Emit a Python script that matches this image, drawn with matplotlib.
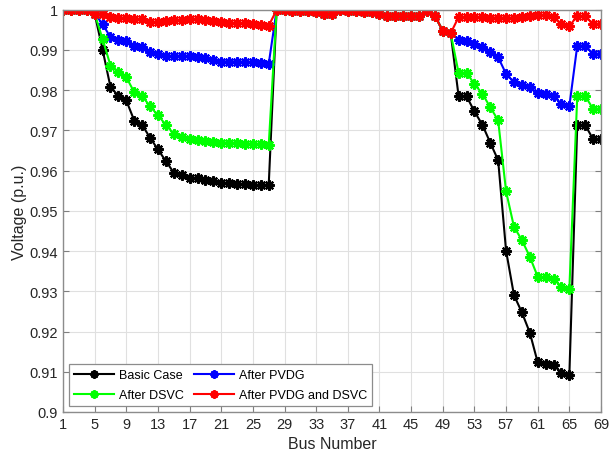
import matplotlib
matplotlib.use("Agg")
import matplotlib.pyplot as plt
import numpy as np

plt.rcParams['font.family'] = ['Liberation Sans', 'DejaVu Sans']

bus = list(range(1, 70))

basic = [1.0000, 0.99997, 0.99993, 0.99984, 0.99902, 0.99009, 0.98079, 0.97858, 0.97745, 0.97245,
         0.97135, 0.96819, 0.96526, 0.96237, 0.95950, 0.95897, 0.95809, 0.95808, 0.95761, 0.95732,
         0.95684, 0.95683, 0.95676, 0.95660, 0.95643, 0.95636, 0.95634,
         0.99993, 0.99985, 0.99973, 0.99971, 0.99961, 0.99935, 0.99901, 0.99895,
         0.99992, 0.99975, 0.99959, 0.99954, 0.99954, 0.99884, 0.99855, 0.99851, 0.99850, 0.99841, 0.99840,
         0.99979, 0.99854, 0.99470, 0.99415,
         0.97854, 0.97853, 0.97470, 0.97142, 0.96695, 0.96258, 0.94010, 0.92904, 0.92476, 0.91974,
         0.91234, 0.91205, 0.91167, 0.90977, 0.90919,
         0.97129, 0.97129, 0.96786, 0.96786]

mid = basic[27:50]

pvdg = ([1.0000, 0.99997, 0.99993, 0.99984, 0.99902,
         0.99645, 0.99314, 0.99256, 0.99215, 0.99107, 0.99083, 0.98942, 0.98901, 0.98843, 0.98843,
         0.98843, 0.98843, 0.98818, 0.98793, 0.98752, 0.98711, 0.98711, 0.98711, 0.98694, 0.98694,
         0.98669, 0.98653]
        + mid
        + [0.99256, 0.99231, 0.99149, 0.99066, 0.98959, 0.98818, 0.98405, 0.98198, 0.98116, 0.98074,
           0.97926, 0.97893, 0.97851, 0.97661, 0.97603,
           0.99107, 0.99107, 0.98901, 0.98901])

dsvc = ([1.0000, 0.99997, 0.99993, 0.99984, 0.99902,
         0.99273, 0.98612, 0.98446, 0.98322, 0.97950, 0.97851, 0.97603, 0.97372, 0.97140, 0.96917,
         0.96835, 0.96793, 0.96752, 0.96727, 0.96711, 0.96694, 0.96694, 0.96686, 0.96670, 0.96670,
         0.96655, 0.96628]
        + mid
        + [0.98430, 0.98430, 0.98157, 0.97909, 0.97579, 0.97248, 0.95488, 0.94603, 0.94273, 0.93860,
           0.93364, 0.93347, 0.93306, 0.93116, 0.93058,
           0.97851, 0.97851, 0.97537, 0.97537])

both = ([1.0000, 0.99997, 0.99993, 0.99984, 0.99902,
         0.99893, 0.99810, 0.99800, 0.99800, 0.99769, 0.99769, 0.99686, 0.99700, 0.99730, 0.99745,
         0.99745, 0.99769, 0.99769, 0.99750, 0.99727, 0.99700, 0.99670, 0.99670, 0.99660, 0.99645,
         0.99620, 0.99603]
        + mid
        + [0.99816, 0.99816, 0.99816, 0.99816, 0.99800, 0.99800, 0.99800, 0.99800, 0.99810, 0.99835,
           0.99870, 0.99860, 0.99810, 0.99645, 0.99587,
           0.99851, 0.99835, 0.99645, 0.99645])

series = [("Basic Case", basic, "#000000"),
          ("After DSVC", dsvc, "#00FF00"),
          ("After PVDG", pvdg, "#0000FF"),
          ("After PVDG and DSVC", both, "#FF0000")]

xticks = list(range(1, 70, 4))
yticks = [0.9, 0.91, 0.92, 0.93, 0.94, 0.95, 0.96, 0.97, 0.98, 0.99, 1.0]
ytick_labels = ["0.9", "0.91", "0.92", "0.93", "0.94", "0.95", "0.96", "0.97", "0.98", "0.99", "1"]

fig = plt.figure(figsize=(6.10, 4.64), dpi=100)
ax = fig.add_axes([63/610, 1-413/464, (601-63)/610, (413-10.7)/464])

asterisk = (8, 2, 0)
handles = {}
for i in [0, 2, 1, 3]:
    name, vals, col = series[i]
    h, = ax.plot(bus, vals, color=col, lw=1.5, marker=asterisk, ms=7.5, mew=1.6, label=name)
    handles[name] = h

ax.set_xlim(1, 69)
ax.set_ylim(0.9, 1.0)
ax.set_xticks(xticks)
ax.set_yticks(yticks)
ax.set_yticklabels(ytick_labels)
ax.grid(True, color='#e0e0e0', lw=0.8)
ax.set_axisbelow(True)
ax.tick_params(direction='in', length=4, colors='#7f7f7f', labelcolor='#262626', labelsize=10.5,
               top=False, right=True)
for s in ax.spines.values():
    s.set_color('#8c8c8c')
    s.set_linewidth(1.0)
ax.set_xlabel("Bus Number", fontsize=11.5, color='#262626', labelpad=4)
ax.set_ylabel("Voltage (p.u.)", fontsize=11.5, color='#262626', labelpad=2)

leg = ax.legend([handles[s[0]] for s in series], [s[0] for s in series], ncol=2, loc='lower left',
                bbox_to_anchor=(0.011, 0.015), borderaxespad=0, fontsize=9, frameon=True,
                fancybox=False, edgecolor='#8c8c8c', handlelength=3.2, columnspacing=0.8,
                handletextpad=0.4, borderpad=0.4, labelspacing=0.6, framealpha=1.0)
leg.get_frame().set_linewidth(0.9)
for h in leg.legend_handles:
    h.set_markersize(6)

fig.savefig("out.png", dpi=100)
